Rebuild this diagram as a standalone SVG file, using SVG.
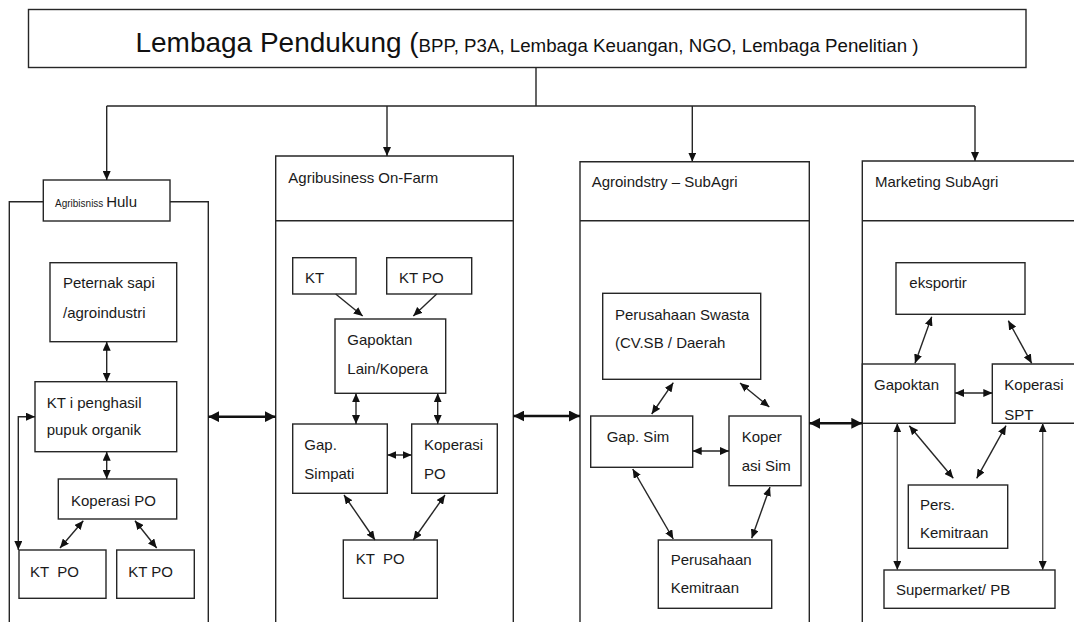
<svg xmlns="http://www.w3.org/2000/svg" width="1074" height="622" viewBox="0 0 1074 622">
<style>
.bx{fill:#fff;stroke:#262626;stroke-width:1.4}
.fr{fill:none;stroke:#262626;stroke-width:1.4}
.t{font-family:"Liberation Sans",Arial,sans-serif;font-size:15px;fill:#1a1a1a}
.c{fill:none;stroke:#262626;stroke-width:1.4}
.d{marker-start:url(#ah);marker-end:url(#ah)}
.e{marker-end:url(#ah)}
.k{fill:none;stroke:#111;stroke-width:2.6;marker-start:url(#ak);marker-end:url(#ak)}
.g{stroke:#555}
</style>
<defs>
<marker id="ah" markerUnits="userSpaceOnUse" markerWidth="9" markerHeight="8" refX="9" refY="4" orient="auto-start-reverse"><path d="M0,0 L9,4 L0,8 z" fill="#111"/></marker>
<marker id="ak" markerUnits="userSpaceOnUse" markerWidth="11" markerHeight="11" refX="11" refY="5.5" orient="auto-start-reverse"><path d="M0,0 L11,5.5 L0,11 z" fill="#111"/></marker>
</defs>
<rect width="1074" height="622" fill="#fff"/>

<g id="lembaga">
<rect class="bx" x="28.5" y="9.5" width="997.5" height="58"/>
<text x="135.5" y="51.5" font-family="Liberation Sans,Arial,sans-serif" fill="#111"><tspan font-size="28" textLength="266" lengthAdjust="spacingAndGlyphs">Lembaga Pendukung</tspan><tspan font-size="28"> (</tspan><tspan font-size="17.5" textLength="500" lengthAdjust="spacingAndGlyphs">BPP, P3A, Lembaga Keuangan, NGO, Lembaga  Penelitian )</tspan></text>
</g>

<g id="hulu">
<path class="fr" d="M9.3,622 V201.7 H43.3 M170,201.7 H208.3 V622"/>
<rect class="bx" x="43.3" y="180" width="126.7" height="41"/>
<text x="55" y="206.7" font-family="Liberation Sans,Arial,sans-serif" fill="#1a1a1a"><tspan font-size="10">Agribisniss </tspan><tspan font-size="15">Hulu</tspan></text>
</g>
<g id="peternak">
<rect class="bx" x="50" y="262.7" width="126.7" height="79"/>
<text class="t" x="63" y="288">Peternak sapi</text>
<text class="t" x="63" y="318">/agroindustri</text>
</g>
<g id="kt-penghasil">
<rect class="bx" x="35" y="381.7" width="141.7" height="70"/>
<text class="t" x="46.7" y="408">KT i penghasil</text>
<text class="t" x="46.7" y="435">pupuk organik</text>
</g>
<g id="koperasi-po-hulu">
<rect class="bx" x="58.3" y="479" width="118.4" height="40"/>
<text class="t" x="71" y="506">Koperasi PO</text>
</g>
<g id="ktpo-hulu-1">
<rect class="bx" x="19" y="550" width="87" height="48.3"/>
<text class="t" x="30" y="577" xml:space="preserve">KT  PO</text>
</g>
<g id="ktpo-hulu-2">
<rect class="bx" x="116.7" y="550" width="77.6" height="48.3"/>
<text class="t" x="128.3" y="577">KT PO</text>
</g>

<g id="onfarm">
<path class="fr" d="M275.7,622 V156 H513.3 V622 M275.7,220.7 H513.3"/>
<text class="t" x="288.3" y="182.7">Agribusiness On-Farm</text>
</g>
<g id="kt-onfarm">
<rect class="bx" x="292.7" y="257.7" width="63.3" height="36.3"/>
<text class="t" x="305" y="283.3">KT</text>
</g>
<g id="ktpo-onfarm-top">
<rect class="bx" x="386.7" y="257.7" width="85" height="36.3"/>
<text class="t" x="399" y="283.3">KT PO</text>
</g>
<g id="gapoktan-lain">
<rect class="bx" x="335" y="319" width="110.7" height="74.3"/>
<text class="t" x="347.3" y="345">Gapoktan</text>
<text class="t" x="347.3" y="374">Lain/Kopera</text>
</g>
<g id="gap-simpati">
<rect class="bx" x="292.7" y="424" width="94.6" height="69.3"/>
<text class="t" x="304.3" y="450">Gap.</text>
<text class="t" x="304.3" y="479.3">Simpati</text>
</g>
<g id="koperasi-po-onfarm">
<rect class="bx" x="411.7" y="424" width="85.6" height="69.3"/>
<text class="t" x="424" y="450">Koperasi</text>
<text class="t" x="424" y="479.3">PO</text>
</g>
<g id="ktpo-onfarm-bottom">
<rect class="bx" x="343.3" y="540" width="94" height="58.3"/>
<text class="t" x="355.7" y="564" xml:space="preserve">KT  PO</text>
</g>

<g id="agroindustry">
<path class="fr" d="M580,622 V161.7 H809.3 V622 M580,220.7 H809.3"/>
<text class="t" x="591.7" y="186.7">Agroindstry – SubAgri</text>
</g>
<g id="perusahaan-swasta">
<rect class="bx" x="602.7" y="293.3" width="158" height="86"/>
<text class="t" x="615" y="320">Perusahaan Swasta</text>
<text class="t" x="615" y="348.3">(CV.SB / Daerah</text>
</g>
<g id="gap-sim">
<rect class="bx" x="590.7" y="416" width="102" height="51.3"/>
<text class="t" x="606.7" y="442.3">Gap. Sim</text>
</g>
<g id="koperasi-sim">
<rect class="bx" x="729" y="416" width="72" height="69.7"/>
<text class="t" x="741.7" y="442.3">Koper</text>
<text class="t" x="741.7" y="471">asi Sim</text>
</g>
<g id="perusahaan-kemitraan">
<rect class="bx" x="658.3" y="540" width="113.4" height="68.3"/>
<text class="t" x="670.7" y="565">Perusahaan</text>
<text class="t" x="670.7" y="592.7">Kemitraan</text>
</g>

<g id="marketing">
<path class="fr" d="M862.3,622 V161 H1080 M862.3,220.7 H1080"/>
<text class="t" x="875" y="187.3">Marketing SubAgri</text>
</g>
<g id="eksportir">
<rect class="bx" x="896" y="262.7" width="129" height="51.6"/>
<text class="t" x="909.3" y="288.3">eksportir</text>
</g>
<g id="gapoktan-mkt">
<rect class="bx" x="862.3" y="364" width="92.7" height="59.3"/>
<text class="t" x="874" y="390">Gapoktan</text>
</g>
<g id="koperasi-spt">
<path class="bx" d="M1080,364 H992.3 V423.3 H1080"/>
<text class="t" x="1004.3" y="390">Koperasi</text>
<text class="t" x="1004.3" y="420">SPT</text>
</g>
<g id="pers-kemitraan">
<rect class="bx" x="908.3" y="485" width="99.4" height="63.3"/>
<text class="t" x="920" y="510">Pers.</text>
<text class="t" x="920" y="538.3">Kemitraan</text>
</g>
<g id="supermarket">
<rect class="bx" x="884" y="570" width="171" height="38.3"/>
<text class="t" x="896" y="595">Supermarket/ PB</text>
</g>

<g id="connectors">
<path class="c" d="M536,67.5 V106 M106.7,106 H975"/>
<path class="c e" d="M106.7,106 V180"/>
<path class="c e" d="M387,106 V156"/>
<path class="c e" d="M692.3,106 V161.7"/>
<path class="c e" d="M975,106 V161"/>

<path class="c d" d="M106.7,341.7 V381.7"/>
<path class="c d" d="M106.7,451.7 V479"/>
<path class="c d" d="M35,416.7 H18.3 V550"/>
<path class="c d" d="M83.3,520.7 L60,548"/>
<path class="c d" d="M135,520.7 L156.7,548"/>

<path class="k" d="M208.3,416.7 H275.7"/>
<path class="k" d="M513.3,416 H580"/>
<path class="k" d="M809.3,423.3 H862.3"/>

<path class="c e" d="M335.7,294 L362.7,316"/>
<path class="c e" d="M436.7,294 L413.3,316"/>
<path class="c d" d="M356,393.3 V424"/>
<path class="c d" d="M437.7,393.3 V424"/>
<path class="c d" d="M387.3,455 H411.7"/>
<path class="c d" d="M344,495 L375,540"/>
<path class="c d" d="M445,495 L413.3,540"/>

<path class="c d" d="M673.3,382.7 L651.7,414"/>
<path class="c d" d="M740,383 L769.3,407"/>
<path class="c d" d="M692.7,451 H729"/>
<path class="c d" d="M632.7,469 L673.3,539"/>
<path class="c d" d="M770,487 L751.7,538.3"/>

<path class="c d" d="M931.7,316.7 L915,363.3"/>
<path class="c d" d="M1008.3,320.7 L1031.7,363.3"/>
<path class="c d" d="M955,393 H992.3"/>
<path class="c d" d="M909.3,425.7 L953.3,478.3"/>
<path class="c d" d="M1006,425.7 L976.7,478.3"/>
<path class="c d g" d="M897.3,423.3 V570"/>
<path class="c d g" d="M1042.7,423.3 V570"/>
</g>
</svg>
